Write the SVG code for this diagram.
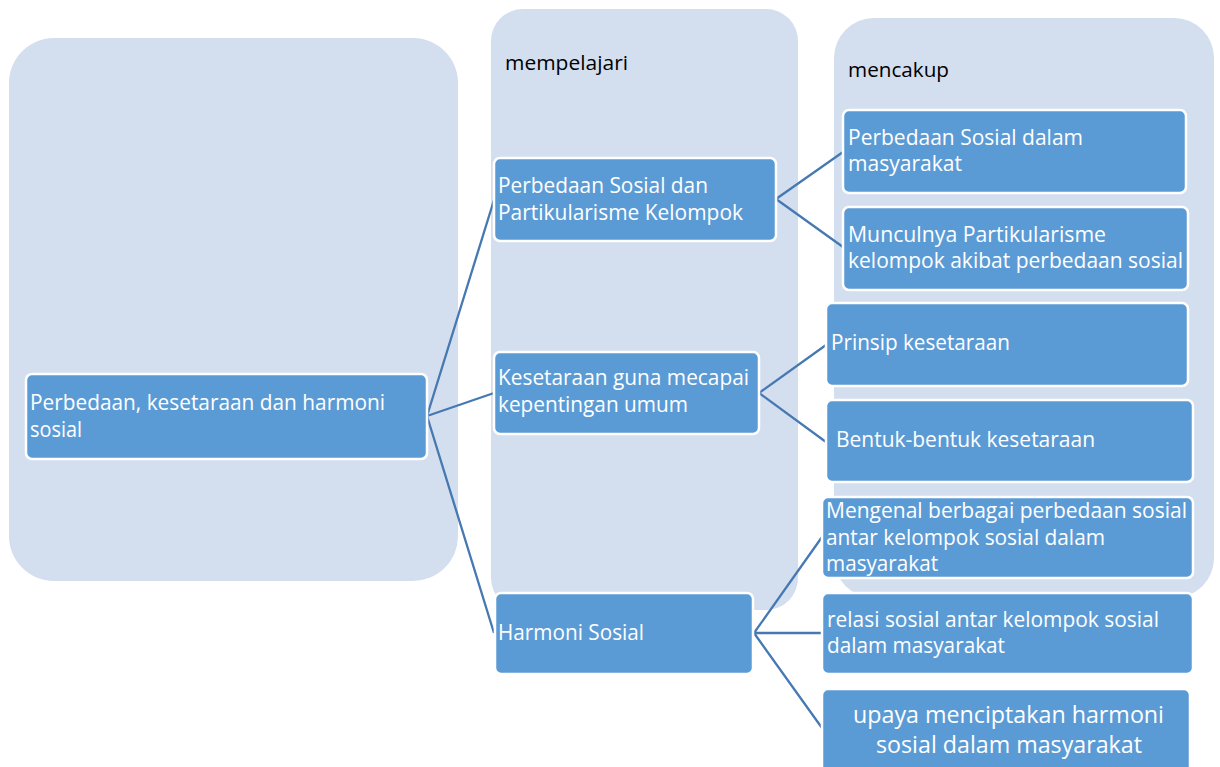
<svg xmlns="http://www.w3.org/2000/svg" width="1220" height="767" viewBox="0 0 1220 767">
<style>
.panel{fill:#D3DEEF;}
.node{fill:#5B9BD5;stroke:#FFFFFF;stroke-width:2.5;}
.t{fill:#FFFFFF;font-family:"Open Sans","Liberation Sans",sans-serif;font-size:21px;}
.lbl{fill:#000000;font-family:"Open Sans","Liberation Sans",sans-serif;font-size:20px;}
.conn{stroke:#4679B2;stroke-width:2.3;fill:none;}
</style>
<rect width="1220" height="767" fill="#FFFFFF"/>
<g id="panels">
<rect class="panel" x="9" y="38" width="449" height="543" rx="45"/>
<rect class="panel" x="491" y="9" width="307" height="601" rx="32"/>
<rect class="panel" x="834" y="18" width="380" height="580" rx="40"/>
<text class="lbl" x="505" y="70" textLength="123" lengthAdjust="spacingAndGlyphs">mempelajari</text>
<text class="lbl" x="848" y="77" textLength="101" lengthAdjust="spacingAndGlyphs">mencakup</text>
</g>
<g id="connectors">
<path class="conn" d="M427,416 L494,200 M427,416 L494,393 M427,416 L494,633"/>
<path class="conn" d="M776,199 L843,152 M776,199 L843,247"/>
<path class="conn" d="M759,393 L826,345 M759,393 L826,442"/>
<path class="conn" d="M754,633 L822,537 M754,633 L822,633 M754,633 L822,728"/>
</g>
<g id="root">
<rect class="node" x="26" y="374" width="401" height="85" rx="6"/>
<text class="t" x="30" y="410" textLength="355" lengthAdjust="spacingAndGlyphs">Perbedaan, kesetaraan dan harmoni</text>
<text class="t" x="30" y="437" textLength="52" lengthAdjust="spacingAndGlyphs">sosial</text>
</g>
<g id="nodeA">
<rect class="node" x="494" y="158" width="282" height="83" rx="6"/>
<text class="t" x="498" y="193" textLength="210" lengthAdjust="spacingAndGlyphs">Perbedaan Sosial dan</text>
<text class="t" x="498" y="220" textLength="245" lengthAdjust="spacingAndGlyphs">Partikularisme Kelompok</text>
</g>
<g id="nodeB">
<rect class="node" x="494" y="352" width="265" height="82" rx="6"/>
<text class="t" x="498" y="385" textLength="251" lengthAdjust="spacingAndGlyphs">Kesetaraan guna mecapai</text>
<text class="t" x="498" y="412" textLength="190" lengthAdjust="spacingAndGlyphs">kepentingan umum</text>
</g>
<g id="nodeC">
<rect class="node" x="495" y="593" width="258" height="81" rx="6"/>
<text class="t" x="498" y="640" textLength="146" lengthAdjust="spacingAndGlyphs">Harmoni Sosial</text>
</g>
<g id="nodeA1">
<rect class="node" x="843" y="110" width="343" height="83" rx="6"/>
<text class="t" x="848" y="145" textLength="235" lengthAdjust="spacingAndGlyphs">Perbedaan Sosial dalam</text>
<text class="t" x="848" y="171" textLength="114" lengthAdjust="spacingAndGlyphs">masyarakat</text>
</g>
<g id="nodeA2">
<rect class="node" x="843" y="207" width="345" height="83" rx="6"/>
<text class="t" x="848" y="242" textLength="258" lengthAdjust="spacingAndGlyphs">Munculnya Partikularisme</text>
<text class="t" x="848" y="268" textLength="335" lengthAdjust="spacingAndGlyphs">kelompok akibat perbedaan sosial</text>
</g>
<g id="nodeB1">
<rect class="node" x="826" y="303" width="362" height="83" rx="6"/>
<text class="t" x="831" y="350" textLength="179" lengthAdjust="spacingAndGlyphs">Prinsip kesetaraan</text>
</g>
<g id="nodeB2">
<rect class="node" x="826" y="400" width="367" height="82" rx="6"/>
<text class="t" x="836" y="447" textLength="259" lengthAdjust="spacingAndGlyphs">Bentuk-bentuk kesetaraan</text>
</g>
<g id="nodeC1">
<rect class="node" x="822" y="497" width="371" height="81" rx="6"/>
<text class="t" x="826" y="518" textLength="361" lengthAdjust="spacingAndGlyphs">Mengenal berbagai perbedaan sosial</text>
<text class="t" x="826" y="545" textLength="279" lengthAdjust="spacingAndGlyphs">antar kelompok sosial dalam</text>
<text class="t" x="826" y="571" textLength="112" lengthAdjust="spacingAndGlyphs">masyarakat</text>
</g>
<g id="nodeC2">
<rect class="node" x="822" y="593" width="371" height="81" rx="6"/>
<text class="t" x="827" y="627" textLength="332" lengthAdjust="spacingAndGlyphs">relasi sosial antar kelompok sosial</text>
<text class="t" x="827" y="653" textLength="178" lengthAdjust="spacingAndGlyphs">dalam masyarakat</text>
</g>
<g id="nodeC3">
<rect class="node" x="822" y="689" width="368" height="90" rx="6"/>
<text class="t" x="853" y="723" style="font-size:23px" textLength="311" lengthAdjust="spacingAndGlyphs">upaya menciptakan harmoni</text>
<text class="t" x="876" y="753" style="font-size:23px" textLength="266" lengthAdjust="spacingAndGlyphs">sosial dalam masyarakat</text>
</g>
</svg>
